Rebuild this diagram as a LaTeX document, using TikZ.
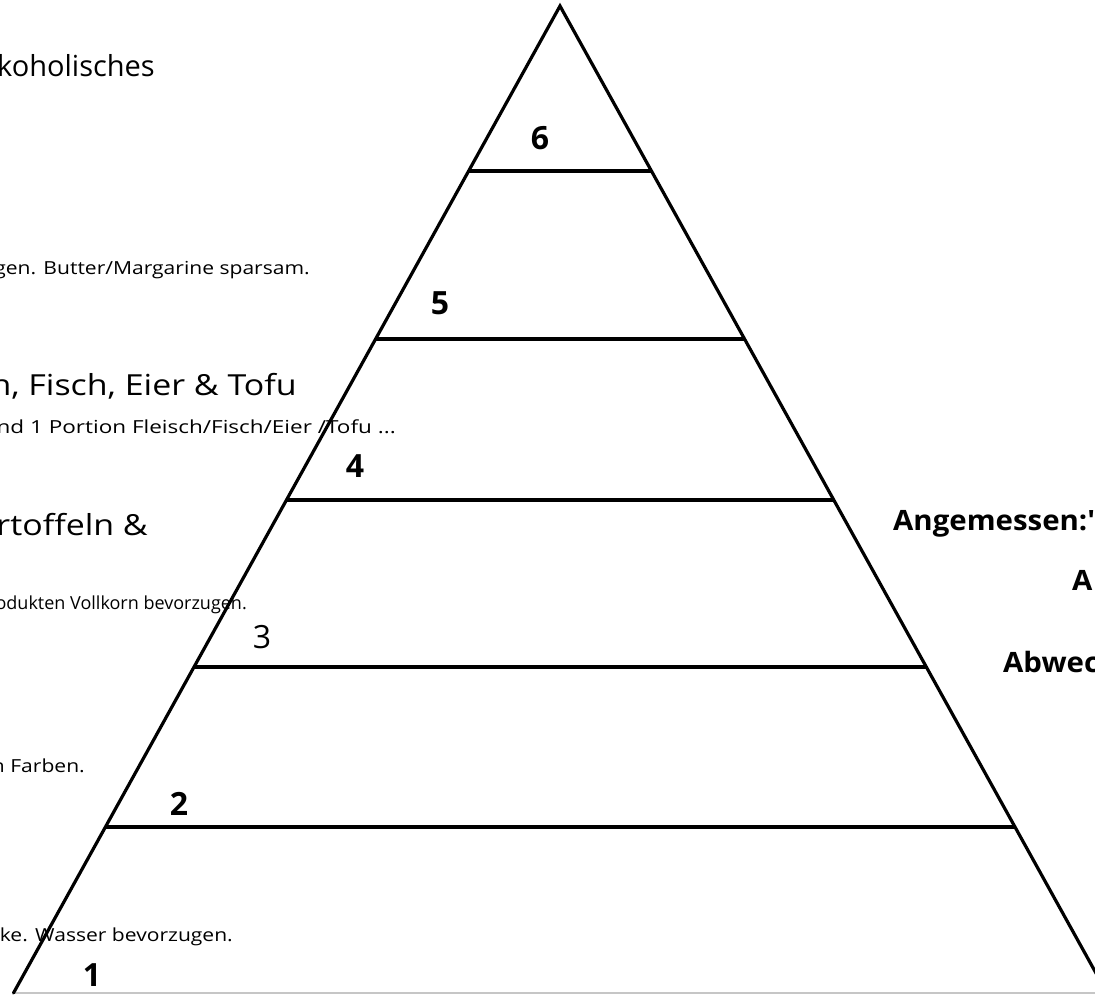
\documentclass[tikz,border=0pt]{standalone}
\usepackage{fontspec}
\setmainfont{Open Sans}
\newfontfamily\bigfont[FakeStretch=1.17]{Open Sans}
\newfontfamily\plainfont{Open Sans}
\newfontfamily\smallfont[FakeStretch=1.17]{Open Sans}
\newfontfamily\widefont[FakeStretch=1.25]{Open Sans}
\newfontfamily\narrowfont[FakeStretch=1.0]{Open Sans}
\newfontfamily\rightfont[FakeStretch=1.05]{Open Sans}
\begin{document}
\begin{tikzpicture}[x=1pt,y=-1pt,
  side/.style={line width=3.2pt,line cap=round},
  tier/.style={line width=3.6pt},
  bigtxt/.style={anchor=base east,inner sep=0pt,font=\bigfont\fontsize{29}{32}\selectfont},
  smalltxt/.style={anchor=base east,inner sep=0pt,font=\smallfont\fontsize{18}{21}\selectfont},
  num/.style={anchor=base,inner sep=0pt,font=\fontsize{32}{36}\selectfont\bfseries},
  numreg/.style={anchor=base,inner sep=0pt,font=\fontsize{32}{36}\selectfont},
  rtxt/.style={anchor=base west,inner sep=0pt,font=\rightfont\fontsize{28}{32}\selectfont\bfseries}]
\useasboundingbox (0,0) rectangle (1095,995);
\clip (0,0) rectangle (1095,995);
% pyramid geometry
\coordinate (apex) at (560,6);
\coordinate (bl) at (13.5,993);
\coordinate (br) at (1107,993);
\foreach \y/\n in {171/a,339/b,500/c,667/d,827/e}{
  \coordinate (L\n) at ({560-0.5535*(\y-6)},\y);
  \coordinate (R\n) at ({560+0.5542*(\y-6)},\y);
}
% bottom baseline
\draw[line width=1.5pt,gray!45] (bl) -- (br);
% texts on the left
\node[bigtxt,font=\plainfont\fontsize{29}{32}\selectfont] (t1) at (155,77) {koholisches};
\node[smalltxt] (t2) at (310,274.5) {gen. Butter/Margarine sparsam.};
\node[bigtxt] (t3) at (297,395) {n, Fisch, Eier \& Tofu};
\node[smalltxt,font=\widefont\fontsize{18}{21}\selectfont] (t4) at (396,433.5) {nd 1 Portion Fleisch/Fisch/Eier /Tofu ...};
\node[bigtxt] (t5) at (148,535) {rtoffeln \&};
\node[smalltxt,font=\narrowfont\fontsize{18}{21}\selectfont] (t6) at (247,609.5) {odukten Vollkorn bevorzugen.};
\node[smalltxt] (t7) at (85,772.5) {n Farben.};
\node[smalltxt] (t8) at (233,941.5) {ke. Wasser bevorzugen.};
% pyramid
\draw[side] (bl) -- (apex) -- (br);
\foreach \n in {a,b,c,d,e}{ \draw[tier] (L\n) -- (R\n); }
% level numbers
\node[num] (n6) at (540,149.5) {6};
\node[num] (n5) at (440,314.5) {5};
\node[num] (n4) at (355,477.5) {4};
\node[numreg] (n3) at (262,648.5) {3};
\node[num] (n2) at (179,815.5) {2};
\node[num] (n1) at (92,986) {1};
% right side labels
\node[rtxt] (r1) at (893,530) {Angemessen:'};
\node[rtxt] (r2) at (1072,590) {A};
\node[rtxt] (r3) at (1003,672) {Abwec};
\end{tikzpicture}
\end{document}
